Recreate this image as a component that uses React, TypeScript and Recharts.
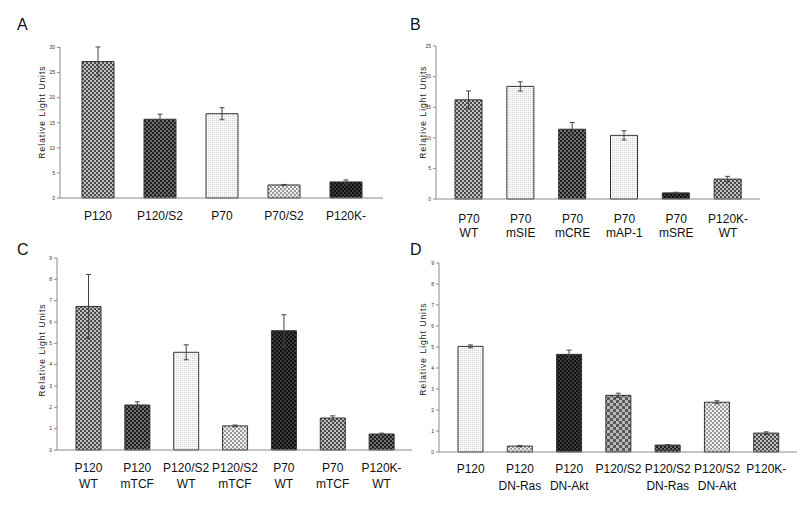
import { Bar, BarChart, Cell, ErrorBar, XAxis, YAxis } from 'recharts'

// panel A
const CATS_A = ['P120', 'P120/S2', 'P70', 'P70/S2', 'P120K-']
const VALS_A = [27.2, 15.7, 16.8, 2.6, 3.2]
const ERR_A = [2.9, 1.0, 1.2, 0.1, 0.4]
const TICKS_A = [0, 5, 10, 15, 20, 25, 30]

// panel B
const CATS_B = ['P70\nWT', 'P70\nmSIE', 'P70\nmCRE', 'P70\nmAP-1', 'P70\nmSRE', 'P120K-\nWT']
const VALS_B = [16.2, 18.4, 11.4, 10.4, 1.0, 3.25]
const ERR_B = [1.45, 0.75, 1.1, 0.75, 0.1, 0.45]
const TICKS_B = [0, 5, 10, 15, 20, 25]

// panel C
const CATS_C = ['P120\nWT', 'P120\nmTCF', 'P120/S2\nWT', 'P120/S2\nmTCF', 'P70\nWT', 'P70\nmTCF', 'P120K-\nWT']
const VALS_C = [6.73, 2.11, 4.58, 1.13, 5.59, 1.5, 0.75]
const ERR_C = [1.5, 0.15, 0.35, 0.04, 0.75, 0.1, 0.04]
const TICKS_C = [0, 1, 2, 3, 4, 5, 6, 7, 8, 9]

// panel D
const CATS_D = ['P120', 'P120\nDN-Ras', 'P120\nDN-Akt', 'P120/S2', 'P120/S2\nDN-Ras', 'P120/S2\nDN-Akt', 'P120K-']
const VALS_D = [5.03, 0.28, 4.65, 2.7, 0.33, 2.37, 0.9]
const ERR_D = [0.07, 0.03, 0.2, 0.1, 0.02, 0.07, 0.06]
const TICKS_D = [0, 1, 2, 3, 4, 5, 6, 7, 8, 9]

const PAT_A = ['mid', 'dark', 'dots', 'light', 'black']
const PAT_B = ['mid', 'dots', 'dark', 'dots', 'black', 'mid']
const PAT_C = ['mid', 'dark', 'dots', 'light', 'black', 'mid', 'dark']
const PAT_D = ['dots', 'light', 'black', 'coarse', 'dark', 'light', 'mid']

const FONT = '"Liberation Sans", Arial, sans-serif'

function Patterns() {
  const check = (id: string, a: string, b: string, s = 2) => (
    <pattern id={id} width={s * 2} height={s * 2} patternUnits="userSpaceOnUse">
      <rect width={s * 2} height={s * 2} fill={a} />
      <rect width={s} height={s} fill={b} />
      <rect x={s} y={s} width={s} height={s} fill={b} />
    </pattern>
  )
  return (
    <svg width={0} height={0} style={{ position: 'absolute' }}>
      <defs>
        {check('p-mid', '#c0c0c0', '#4a4a4a')}
        {check('p-coarse', '#b8b8b8', '#5a5a5a', 3)}
        {check('p-dark', '#6e6e6e', '#1e1e1e')}
        {check('p-light', '#eeeeee', '#9a9a9a')}
        {check('p-black', '#3a3a3a', '#111')}
        <pattern id="p-dots" width={2} height={2} patternUnits="userSpaceOnUse">
          <rect width={2} height={2} fill="#fafafa" />
          <rect width={1} height={1} fill="#cfcfcf" />
        </pattern>
      </defs>
    </svg>
  )
}

function CatTick({ x, y, payload, dy, lh }: any) {
  const lines = String(payload.value).split('\n')
  return (
    <text x={x} y={y} textAnchor="middle" fontSize={12} fontFamily={FONT} fill="#111">
      {lines.map((l, i) => (
        <tspan key={i} x={x} dy={i === 0 ? dy : lh}>{l}</tspan>
      ))}
    </text>
  )
}

type PanelProps = {
  cats: string[]; vals: number[]; errs: number[]; ticks: number[]; pats: string[]
  left: number; top: number; width: number; height: number
  margin: { top: number; right: number; bottom: number; left: number }
  xh: number; barSize: number; dy: number; lh: number
}

function Panel(p: PanelProps) {
  const data = p.cats.map((c, i) => ({ cat: c, v: p.vals[i], e: p.errs[i] }))
  const max = p.ticks[p.ticks.length - 1]
  return (
    <div style={{ position: 'absolute', left: p.left, top: p.top }}>
      <BarChart width={p.width} height={p.height} data={data} margin={p.margin}>
        <XAxis
          dataKey="cat"
          height={p.xh}
          interval={0}
          padding={{ left: 7, right: 6 }}
          axisLine={{ stroke: '#8a8a8a' }}
          tickLine={false}
          tickSize={0}
          tickMargin={0}
          tick={<CatTick dy={p.dy} lh={p.lh} />}
        />
        <YAxis
          width={20}
          domain={[0, max]}
          ticks={p.ticks}
          interval={0}
          axisLine={{ stroke: '#8a8a8a' }}
          tickLine={{ stroke: '#8a8a8a' }}
          tickSize={3}
          tickMargin={2}
          tick={{ fontSize: 5, fill: '#333', fontFamily: FONT }}
        />
        <Bar dataKey="v" barSize={p.barSize} stroke="#333" strokeWidth={1} isAnimationActive={false}>
          {data.map((d, i) => (
            <Cell key={d.cat} fill={`url(#p-${p.pats[i]})`} />
          ))}
          <ErrorBar dataKey="e" width={2.5} stroke="#444" strokeWidth={1} isAnimationActive={false} />
        </Bar>
      </BarChart>
    </div>
  )
}

const yLabel = (x: number, y: number) => (
  <div
    style={{
      position: 'absolute', left: x - 60, top: y - 6, width: 120, height: 12,
      lineHeight: '12px', textAlign: 'center', transform: 'rotate(-90deg)',
      fontFamily: FONT, fontSize: 8.5, letterSpacing: 1, color: '#222', whiteSpace: 'nowrap',
    }}
  >
    Relative Light Units
  </div>
)

const letter = (x: number, y: number, t: string) => (
  <div style={{ position: 'absolute', left: x, top: y, fontFamily: FONT, fontSize: 16, lineHeight: '16px', color: '#111' }}>{t}</div>
)

export default function App() {
  return (
    <div style={{ position: 'absolute', left: 0, top: 0, width: 800, height: 510, background: '#fff', overflow: 'hidden' }}>
      <Patterns />
      <Panel cats={CATS_A} vals={VALS_A} errs={ERR_A} ticks={TICKS_A} pats={PAT_A}
        left={0} top={0} width={400} height={250}
        margin={{ top: 47, right: 17, bottom: 12, left: 40 }} xh={40} barSize={32} dy={22} lh={14} />
      <Panel cats={CATS_B} vals={VALS_B} errs={ERR_B} ticks={TICKS_B} pats={PAT_B}
        left={400} top={0} width={400} height={250}
        margin={{ top: 46, right: 40, bottom: 11, left: 16 }} xh={40} barSize={27} dy={24} lh={14} />
      <Panel cats={CATS_C} vals={VALS_C} errs={ERR_C} ticks={TICKS_C} pats={PAT_C}
        left={0} top={250} width={420} height={260}
        margin={{ top: 8, right: 8, bottom: 10, left: 37 }} xh={50} barSize={25} dy={22} lh={16} />
      <Panel cats={CATS_D} vals={VALS_D} errs={ERR_D} ticks={TICKS_D} pats={PAT_D}
        left={400} top={250} width={400} height={260}
        margin={{ top: 13, right: 3, bottom: 8, left: 19 }} xh={50} barSize={25} dy={21} lh={17} />
      {yLabel(42, 112)}
      {yLabel(423, 112)}
      {yLabel(42, 350)}
      {yLabel(423, 349)}
      {letter(17, 17, 'A')}
      {letter(410, 17, 'B')}
      {letter(17, 242, 'C')}
      {letter(410, 242, 'D')}
    </div>
  )
}
